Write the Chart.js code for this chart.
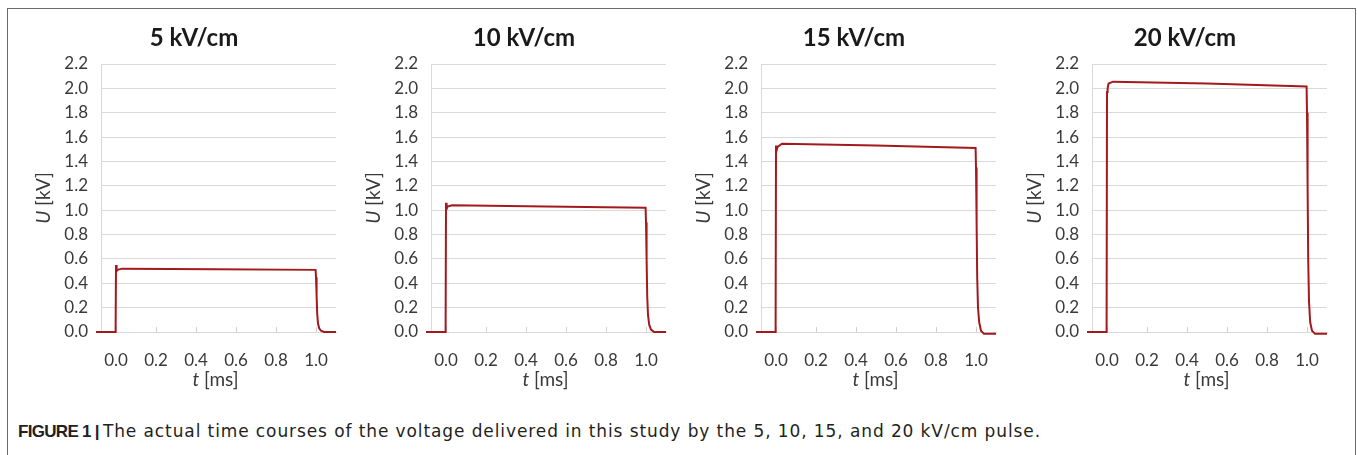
<!DOCTYPE html>
<html>
<head>
<meta charset="utf-8">
<script src="https://cdn.jsdelivr.net/npm/chart.js@4.4.0/dist/chart.umd.min.js"></script>
<style>
  body { margin:0; background:#fff; width:1357px; height:455px; overflow:hidden; position:relative; }
  .frame { position:absolute; left:7px; top:8px; width:1347px; height:470px; border:1px solid #6a6a6a; }
  .panel { position:absolute; top:14px; width:322px; height:380px; }
  .caption { position:absolute; left:18px; top:421px; color:#231f20; white-space:nowrap; }
  .caption b { font:bold 17px 'Liberation Sans', Arial, sans-serif; letter-spacing:-0.7px; }
  .caption span { font:17px 'DejaVu Sans', sans-serif; }
</style>
</head>
<body>
<div class="frame"></div>
<div class="panel" style="left:31px"><canvas id="c0" width="322" height="380"></canvas></div>
<div class="panel" style="left:361px"><canvas id="c1" width="322" height="380"></canvas></div>
<div class="panel" style="left:691px"><canvas id="c2" width="322" height="380"></canvas></div>
<div class="panel" style="left:1022px"><canvas id="c3" width="322" height="380"></canvas></div>
<div class="caption"><b>FIGURE 1 |</b> <span id="capText">The actual time courses of the voltage delivered in this study by the 5, 10, 15, and 20 kV/cm pulse.</span></div>

<script>
// panel titles and axis ticks
const titles = ['5 kV/cm', '10 kV/cm', '15 kV/cm', '20 kV/cm'];
const xTicks = [0, 0.2, 0.4, 0.6, 0.8, 1.0];
const yTicks = [0, 0.2, 0.4, 0.6, 0.8, 1.0, 1.2, 1.4, 1.6, 1.8, 2.0, 2.2];

// time samples [ms], shared by all pulses
const tMs = [-0.1, -0.002, 0, 0.003, 0.008, 0.03, 0.5, 0.998, 1.0, 1.003, 1.006, 1.01, 1.016, 1.025, 1.04, 1.1];

// measured voltage [kV] per pulse
const u5  = [0, 0, 0.55, 0.50, 0.51, 0.52, 0.515, 0.51, 0.45, 0.30, 0.15, 0.07, 0.03, 0.01, 0, 0];
const u10 = [0, 0, 1.06, 1.01, 1.03, 1.04, 1.03, 1.02, 0.90, 0.60, 0.30, 0.14, 0.06, 0.02, 0, 0];
const u15 = [0, 0, 1.53, 1.49, 1.52, 1.545, 1.53, 1.51, 1.35, 0.90, 0.45, 0.20, 0.08, 0.01, -0.015, -0.015];
const u20 = [0, 0, 1.97, 2.00, 2.04, 2.055, 2.04, 2.015, 1.80, 1.20, 0.60, 0.25, 0.08, 0.01, -0.015, -0.015];
const series = [u5, u10, u15, u20];

const RED = '#a31a1e';
const GRID = '#d9d9d9';
const TXT = '#3a3a3a';

// caption body ends at x~1041 in the original
const cap = document.getElementById('capText');
const r = cap.getBoundingClientRect();
cap.style.letterSpacing = ((1041 - r.left - r.width) / cap.textContent.length).toFixed(2) + 'px';

function drawParts(ctx, parts, x, y) {
  let total = 0;
  parts.forEach(p => { ctx.font = p[1]; total += ctx.measureText(p[0]).width; });
  let cx = x - total / 2;
  parts.forEach(p => {
    ctx.font = p[1];
    ctx.fillText(p[0], cx, y);
    cx += ctx.measureText(p[0]).width;
  });
}

const decor = {
  id: 'decor',
  beforeDatasetsDraw(chart) {
    const { ctx, chartArea: a, scales: { x } } = chart;
    ctx.save();
    ctx.strokeStyle = '#cfcfcf';
    ctx.lineWidth = 1;
    xTicks.forEach(v => {
      const px = Math.round(x.getPixelForValue(v)) + 0.5;
      ctx.beginPath();
      ctx.moveTo(px, a.bottom);
      ctx.lineTo(px, a.bottom - 5);
      ctx.stroke();
    });
    ctx.restore();
  },
  afterDraw(chart, args, opts) {
    const { ctx, chartArea: a } = chart;
    ctx.save();
    ctx.fillStyle = '#1a1a1a';
    ctx.textAlign = 'left';
    ctx.textBaseline = 'middle';
    drawParts(ctx, [[opts.title, 'bold 24px Lato']], a.left + 93, 24);

    ctx.fillStyle = TXT;
    const midX = (a.left + a.right) / 2 - 3;
    drawParts(ctx, [['t', 'italic 19px Lato'], [' [ms]', '19px Lato']], midX, 366);

    ctx.translate(a.left - 57, (a.top + a.bottom) / 2);
    ctx.rotate(-Math.PI / 2);
    drawParts(ctx, [['U', 'italic 19px Lato'], [' [kV]', '19px Lato']], 0, 0);
    ctx.restore();
  }
};

series.forEach((u, i) => {
  new Chart(document.getElementById('c' + i), {
    type: 'line',
    data: {
      datasets: [{
        data: tMs.map((t, k) => ({ x: t, y: u[k] })),
        borderColor: RED, borderWidth: 2, pointRadius: 0, tension: 0, clip: false
      }]
    },
    options: {
      responsive: false, animation: false, devicePixelRatio: 1,
      layout: { padding: { top: 50, right: 17, left: 0, bottom: 0 } },
      plugins: { legend: { display: false }, tooltip: { enabled: false }, decor: { title: titles[i] } },
      scales: {
        x: {
          type: 'linear', min: -0.075, max: 1.1,
          afterBuildTicks: s => { s.ticks = xTicks.map(v => ({ value: v })); },
          afterFit: s => { s.height = 62; },
          grid: { display: false },
          border: { display: true, color: GRID, width: 1 },
          ticks: { padding: 10, color: TXT, font: { family: 'Lato', size: 17 }, maxRotation: 0, callback: v => v.toFixed(1) }
        },
        y: {
          min: 0, max: 2.2,
          afterBuildTicks: s => { s.ticks = yTicks.map(v => ({ value: v })); },
          afterFit: s => { s.width = 70; },
          grid: { color: GRID, lineWidth: 1, drawTicks: false },
          border: { display: true, color: GRID, width: 1 },
          ticks: { padding: 13, color: TXT, font: { family: 'Lato', size: 17 }, callback: v => v.toFixed(1) }
        }
      }
    },
    plugins: [decor]
  });
});
</script>
</body>
</html>
